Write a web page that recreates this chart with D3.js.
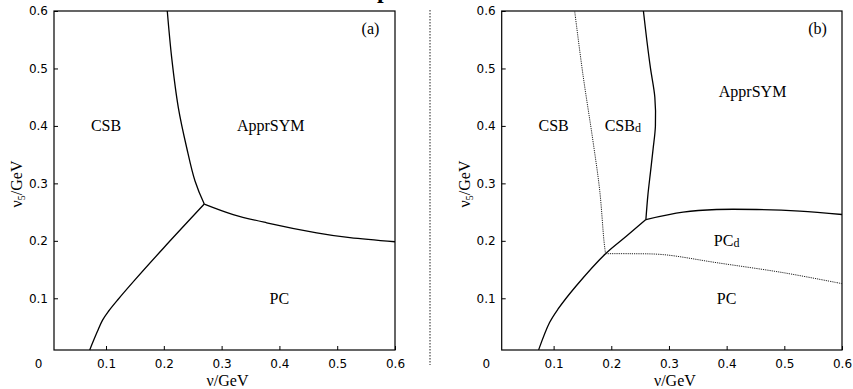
<!DOCTYPE html>
<html>
<head>
<meta charset="utf-8">
<script src="https://cdn.jsdelivr.net/npm/d3@7"></script>
<style>
  html, body { margin: 0; padding: 0; background: #fff; }
  svg { display: block; }
  .tick text { font-family: "DejaVu Sans", sans-serif; font-size: 12px; fill: #000; }
  .tick line { stroke: #000; stroke-width: 1; }
  .lbl { font-family: "Liberation Serif", "Times New Roman", serif; font-size: 16px; fill: #000; }
</style>
</head>
<body>
<svg id="chart" width="853" height="389"></svg>
<script>
// ---- data (v/GeV, v5/GeV) ----
const xTicks = [0.1, 0.2, 0.3, 0.4, 0.5, 0.6];
const yTicks = [0.1, 0.2, 0.3, 0.4, 0.5, 0.6];
const domainMin = 0.01, domainMax = 0.6;

// panel (a)
const aUpper = [[0.206,0.6],[0.2137,0.518],[0.2251,0.432],[0.2396,0.362],[0.254,0.304],[0.27,0.264]];
const aLower = [[0.27,0.264],[0.2,0.188],[0.15,0.132],[0.12,0.097],[0.104,0.077],[0.094,0.062],[0.085,0.042],[0.0718,0.0102]];
const aRight = [[0.27,0.264],[0.32,0.2458],[0.378,0.2314],[0.4645,0.214],[0.522,0.2054],[0.6,0.1984]];

// panel (b)
const bLower = [[0.074,0.0102],[0.093,0.0578],[0.1075,0.081],[0.139,0.1214],[0.19,0.1776],[0.226,0.208],[0.26,0.237]];
const bUpper = [[0.26,0.237],[0.2635,0.28],[0.268,0.32],[0.2725,0.36],[0.2765,0.4],[0.2755,0.45],[0.268,0.5],[0.2615,0.55],[0.2557,0.6]];
const bRight = [[0.26,0.237],[0.3245,0.2498],[0.3825,0.2545],[0.452,0.2545],[0.527,0.2516],[0.6,0.2458]];
const bDotUpper = [[0.19,0.1776],[0.1873,0.2],[0.18,0.287],[0.1682,0.374],[0.1509,0.489],[0.1365,0.6]];
const bDotLower = [[0.19,0.1776],[0.232,0.1776],[0.29,0.176],[0.3825,0.162],[0.498,0.1446],[0.6,0.1255]];

const aLabels = [
  {t:"CSB", v:0.1, v5:0.4},
  {t:"ApprSYM", v:0.385, v5:0.4},
  {t:"PC", v:0.4, v5:0.1}
];
const bLabels = [
  {t:"CSB", v:0.1, v5:0.4},
  {t:"CSB", sub:"d", v:0.22, v5:0.4},
  {t:"ApprSYM", v:0.445, v5:0.46},
  {t:"PC", sub:"d", v:0.4, v5:0.2},
  {t:"PC", v:0.4, v5:0.1}
];

const svg = d3.select("#chart");

function panel(left, right, tag, lines, dotted, labels) {
  const top = 11, bottom = 350;
  const x = d3.scaleLinear().domain([domainMin, domainMax]).range([left, right]);
  const y = d3.scaleLinear().domain([domainMin, domainMax]).range([bottom, top]);
  const g = svg.append("g");

  // axes with inward ticks
  const xa = g.append("g").attr("transform", `translate(0,${bottom})`)
    .call(d3.axisBottom(x).tickValues(xTicks).tickFormat(d3.format(".1f")).tickSize(-4).tickSizeOuter(0).tickPadding(9));
  xa.select(".domain").remove();
  const ya = g.append("g").attr("transform", `translate(${left},0)`)
    .call(d3.axisLeft(y).tickValues(yTicks).tickFormat(d3.format(".1f")).tickSize(-4).tickSizeOuter(0).tickPadding(6));
  ya.select(".domain").remove();

  // frame
  g.append("rect").attr("x", left).attr("y", top).attr("width", right - left).attr("height", bottom - top)
    .attr("fill", "none").attr("stroke", "#000").attr("stroke-width", 1.2);

  // origin label
  g.append("text").attr("x", left - 15.5).attr("y", 367.5).attr("text-anchor", "middle")
    .style("font-family", "DejaVu Sans, sans-serif").style("font-size", "12px").text("0");

  const line = d3.line().x(d => x(d[0])).y(d => y(d[1])).curve(d3.curveCatmullRom.alpha(0.5));
  lines.forEach(L => g.append("path").attr("d", line(L)).attr("fill", "none")
    .attr("stroke", "#000").attr("stroke-width", 1.3));
  dotted.forEach(L => g.append("path").attr("d", line(L)).attr("fill", "none")
    .attr("stroke", "#222").attr("stroke-width", 1).attr("stroke-dasharray", "1.2,1"));

  labels.forEach(l => {
    const t = g.append("text").attr("class", "lbl").attr("x", x(l.v)).attr("y", y(l.v5) + 5.5)
      .attr("text-anchor", "middle");
    t.append("tspan").text(l.t);
    if (l.sub) t.append("tspan").attr("font-size", "12px").attr("dy", 1).text(l.sub);
  });

  g.append("text").attr("class", "lbl").attr("x", right - 24.5).attr("y", 34).attr("text-anchor", "middle").text(tag);

  // axis titles
  g.append("text").attr("class", "lbl").attr("x", (left + right) / 2 + 3).attr("y", 386)
    .attr("text-anchor", "middle").text("ν/GeV");
  const yt = g.append("text").attr("class", "lbl").attr("text-anchor", "middle")
    .attr("transform", `translate(${left - 32},${184}) rotate(-90)`);
  yt.append("tspan").text("ν");
  yt.append("tspan").attr("font-size", "10px").attr("dy", 3).text("5");
  yt.append("tspan").attr("dy", -3).text("/GeV");
}

panel(54, 395, "(a)", [aUpper, aLower, aRight], [], aLabels);
panel(501.7, 842, "(b)", [bLower, bUpper, bRight], [bDotUpper, bDotLower], bLabels);

// separator between panels
svg.append("line").attr("x1", 430).attr("x2", 430).attr("y1", 10).attr("y2", 365)
  .attr("stroke", "#222").attr("stroke-width", 1).attr("stroke-dasharray", "1.5,1.5");

// cut-off title fragment at the very top (only its descender is visible in the reference)
svg.append("text").attr("x", 377).attr("y", -2)
  .style("font-family", "Liberation Serif, serif").style("font-size", "24px").style("font-weight", "bold")
  .text("p");
</script>
</body>
</html>
